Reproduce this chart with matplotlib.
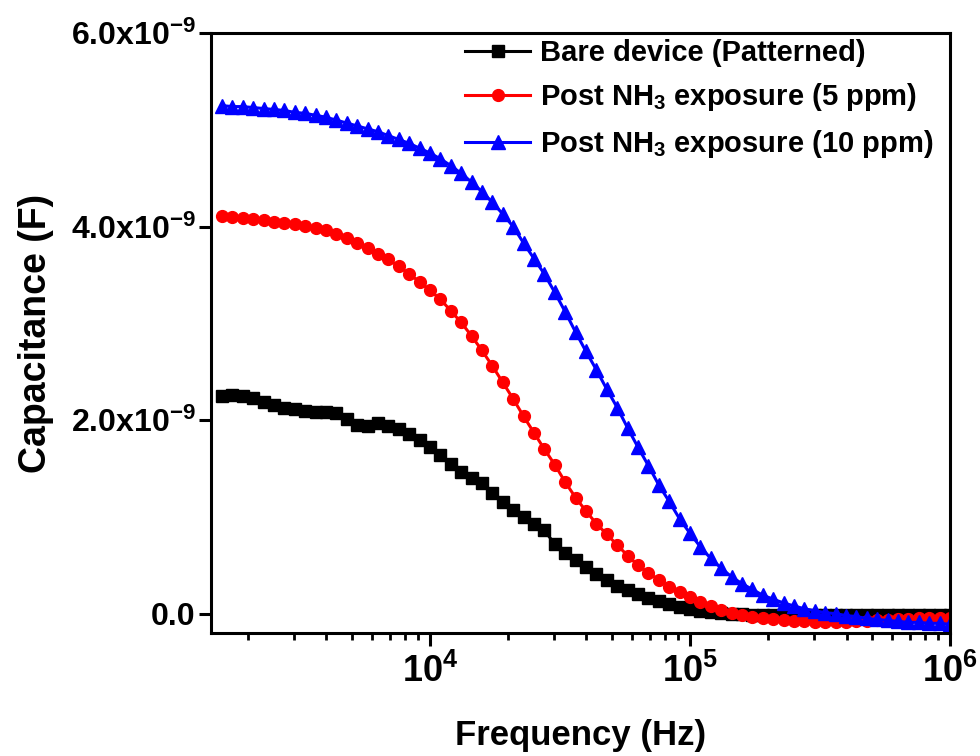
import numpy as np
import matplotlib
matplotlib.use("Agg")
import matplotlib.pyplot as plt
from matplotlib.ticker import FixedLocator, FixedFormatter, LogLocator, NullFormatter

plt.rcParams['font.family'] = ['Liberation Sans', 'DejaVu Sans']
plt.rcParams['font.weight'] = 'bold'
plt.rcParams['mathtext.fontset'] = 'custom'
plt.rcParams['mathtext.rm'] = 'Liberation Sans:bold'
plt.rcParams['mathtext.bf'] = 'Liberation Sans:bold'
plt.rcParams['mathtext.it'] = 'Liberation Sans:bold'

# frequency sweep (Hz)
freq = [1585, 1738, 1905, 2089, 2291, 2512, 2754, 3020, 3311, 3631,
        3981, 4365, 4786, 5248, 5754, 6310, 6918, 7586, 8318, 9120,
        10000, 10965, 12023, 13183, 14454, 15849, 17378, 19055, 20893, 22909,
        25119, 27542, 30200, 33113, 36308, 39811, 43652, 47863, 52481, 57544,
        63096, 69183, 75858, 83176, 91201, 100000, 109648, 120226, 131826, 144544,
        158489, 173780, 190546, 208930, 229087, 251189, 275423, 301995, 331131, 363078,
        398107, 436516, 478630, 524807, 575440, 630957, 691831, 758578, 831764, 912011,
        1000000]

# capacitance in nF
bare = [2.25, 2.26, 2.25, 2.23, 2.19, 2.16, 2.13, 2.11, 2.09, 2.08,
        2.08, 2.07, 2.01, 1.95, 1.94, 1.97, 1.94, 1.91, 1.86, 1.79,
        1.72, 1.64, 1.55, 1.46, 1.40, 1.35, 1.25, 1.15, 1.07, 1.00,
        0.93, 0.86, 0.72, 0.63, 0.55, 0.48, 0.41, 0.35, 0.29, 0.24,
        0.20, 0.16, 0.13, 0.10, 0.07, 0.05, 0.03, 0.02, 0.01, 0.00,
        0.00, -0.01, -0.01, -0.01, -0.01, -0.01, -0.01, -0.01, -0.01, -0.01,
        -0.01, -0.01, -0.01, -0.01, -0.01, -0.01, -0.01, -0.01, -0.01, -0.01,
        -0.01]
nh3_5 = [4.11, 4.10, 4.09, 4.08, 4.07, 4.05, 4.04, 4.03, 4.01, 3.99,
         3.96, 3.92, 3.88, 3.83, 3.78, 3.72, 3.66, 3.59, 3.51, 3.43,
         3.34, 3.25, 3.13, 3.01, 2.87, 2.72, 2.56, 2.39, 2.22, 2.04,
         1.87, 1.70, 1.54, 1.36, 1.20, 1.06, 0.93, 0.82, 0.71, 0.60,
         0.50, 0.42, 0.35, 0.28, 0.22, 0.17, 0.12, 0.08, 0.04, 0.01,
         -0.01, -0.03, -0.05, -0.06, -0.07, -0.08, -0.08, -0.09, -0.09, -0.09,
         -0.09, -0.08, -0.08, -0.07, -0.07, -0.06, -0.06, -0.05, -0.05, -0.05,
         -0.04]
nh3_10 = [5.25, 5.24, 5.24, 5.23, 5.22, 5.21, 5.20, 5.18, 5.17, 5.15,
          5.13, 5.10, 5.07, 5.04, 5.01, 4.98, 4.94, 4.90, 4.86, 4.81,
          4.76, 4.70, 4.63, 4.55, 4.46, 4.36, 4.25, 4.13, 4.00, 3.83,
          3.67, 3.51, 3.32, 3.12, 2.91, 2.71, 2.52, 2.32, 2.13, 1.92,
          1.72, 1.53, 1.33, 1.16, 0.98, 0.83, 0.69, 0.57, 0.47, 0.38,
          0.31, 0.25, 0.19, 0.15, 0.11, 0.08, 0.05, 0.03, 0.01, 0.00,
          -0.02, -0.03, -0.05, -0.06, -0.07, -0.08, -0.09, -0.09, -0.10, -0.10,
          -0.11]

labels = ['Bare device (Patterned)',
          r'Post NH$_{3}$ exposure (5 ppm)',
          r'Post NH$_{3}$ exposure (10 ppm)']

ytick_vals = [0.0, 2.0e-9, 4.0e-9, 6.0e-9]
ytick_text = ['0.0', r'2.0x10$^{-9}$', r'4.0x10$^{-9}$', r'6.0x10$^{-9}$']
xtick_vals = [1e4, 1e5, 1e6]
xtick_text = [r'10$^{4}$', r'10$^{5}$', r'10$^{6}$']

fig = plt.figure(figsize=(9.8, 7.56), dpi=100)
ax = fig.add_axes([0.2153, 0.1627, 0.7541, 0.7936])

f = np.array(freq)
ax.plot(f, np.array(bare) * 1e-9, color='black', marker='s', ms=8, lw=2.2, label=labels[0])
ax.plot(f, np.array(nh3_5) * 1e-9, color='#ff0000', marker='o', ms=8.5, lw=2.2, label=labels[1])
ax.plot(f, np.array(nh3_10) * 1e-9, color='#0000ff', marker='^', ms=9.5, lw=2.2, label=labels[2])

ax.set_xscale('log')
ax.set_xlim(1439, 1e6)
ax.set_ylim(-0.2e-9, 6.0e-9)

ax.yaxis.set_major_locator(FixedLocator(ytick_vals))
ax.yaxis.set_major_formatter(FixedFormatter(ytick_text))
ax.xaxis.set_major_locator(FixedLocator(xtick_vals))
ax.xaxis.set_major_formatter(FixedFormatter(xtick_text))
ax.xaxis.set_minor_locator(LogLocator(base=10, subs=np.arange(2, 10)))
ax.xaxis.set_minor_formatter(NullFormatter())

for s in ax.spines.values():
    s.set_linewidth(2.2)
ax.tick_params(which='major', direction='out', length=9, width=2.2)
ax.tick_params(which='minor', direction='out', length=5, width=2.0)
ax.tick_params(axis='y', which='major', pad=2, labelsize=23)
ax.tick_params(axis='x', which='major', pad=6, labelsize=26)

ax.set_xlabel('Frequency (Hz)', fontsize=25, fontweight='bold', labelpad=21)
ax.set_ylabel('Capacitance (F)', fontsize=27, fontweight='bold', labelpad=12)

ax.legend(loc='upper right', frameon=False, fontsize=21, handlelength=2.2,
          handletextpad=0.35, labelspacing=0.5, borderaxespad=0.0,
          borderpad=0.2, bbox_to_anchor=(0.985, 1.0))

fig.savefig('out.png', dpi=100)
